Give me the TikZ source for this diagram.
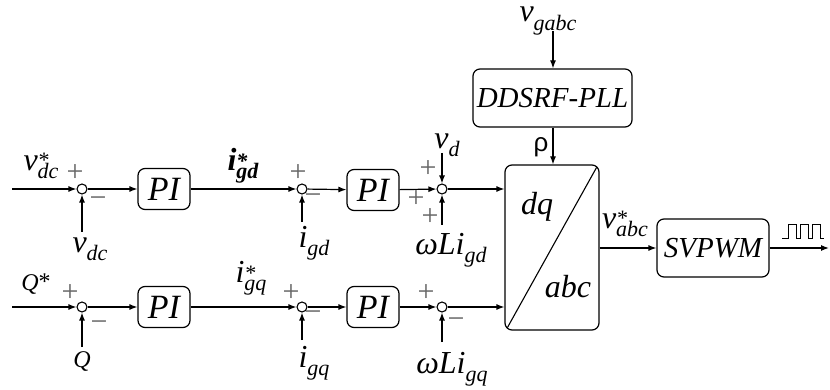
\documentclass[tikz,border=0pt]{standalone}
\usepackage{fontspec}
\setmainfont{Liberation Serif}[ItalicFont={* Italic},BoldFont={* Bold},BoldItalicFont={* Bold Italic}]
\newfontfamily\sansgr{Liberation Sans}
\usetikzlibrary{arrows.meta,calc}
\newcommand{\subf}{\fontsize{22}{22}\selectfont}
\newcommand{\sbs}[3]{#1\rlap{\raisebox{0.15ex}{\subf #3}}\raisebox{-0.55ex}{\subf\itshape #2}}
\begin{document}
\begin{tikzpicture}[x=1pt,y=-1pt,
  line width=1.2pt,
  arr/.style={-{Latex[length=8pt,width=6pt]}},
  sumc/.style={circle,draw,minimum size=10pt,inner sep=0pt,line width=1.1pt},
  blk/.style={draw,rounded corners=7pt,line width=1.2pt,inner sep=0pt,
              font=\fontsize{29}{30}\selectfont\itshape},
  pib/.style={blk,minimum width=52pt,minimum height=41pt,font=\fontsize{34}{34}\selectfont\itshape},
  lbl/.style={inner sep=0pt,font=\fontsize{32}{33}\selectfont\itshape},
  slbl/.style={inner sep=0pt,font=\fontsize{24}{24}\selectfont\itshape},
  sgn/.style={inner sep=0pt,text=black!60,font=\fontsize{30}{30}\selectfont}]
\path[use as bounding box] (0,0) rectangle (830,390);
% top row
\coordinate (in1) at (12,189);
\node[sumc] (s1) at (82,189) {};
\node[pib] (PI1) at (164,189) {PI};
\node[sumc] (s2) at (302,189) {};
\node[pib] (PI2) at (373,190) {PI};
\node[sumc] (s3) at (442,189) {};
% bottom row
\coordinate (in2) at (12,307);
\node[sumc] (s4) at (82,307) {};
\node[pib] (PI3) at (164,307) {PI};
\node[sumc] (s5) at (302,307) {};
\node[pib] (PI4) at (373,307) {PI};
\node[sumc] (s6) at (442,307) {};
% transform block
\node[blk,minimum width=94pt,minimum height=165pt] (T) at (552,247.5) {};
\node[blk,minimum width=159pt,minimum height=58pt] (PLL) at (552.5,98) {DDSRF-PLL};
\node[blk,minimum width=112pt,minimum height=58pt] (SV) at (713,248) {SVPWM};
\coordinate (vg) at (553,31);
\coordinate (out) at (829,248);
% feedback starts
\coordinate (f1) at (82,232);
\coordinate (f2) at (302,222);
\coordinate (f3) at (442,225);
\coordinate (f4) at (82,347);
\coordinate (f5) at (302,340);
\coordinate (f6) at (442,342);
\coordinate (fd) at (442,153);
% connectors
\draw[arr] (in1) -- (s1);
\draw[arr] (s1) -- (PI1);
\draw[arr] (PI1) -- (s2);
\draw[arr] (s2) -- (PI2);
\draw[arr] (PI2) -- (s3);
\draw[arr] (s3) -- (s3 -| T.west);
\draw[arr] (in2) -- (s4);
\draw[arr] (s4) -- (PI3);
\draw[arr] (PI3) -- (s5);
\draw[arr] (s5) -- (PI4);
\draw[arr] (PI4) -- (s6);
\draw[arr] (s6) -- (s6 -| T.west);
\draw[arr] (f1) -- (s1);
\draw[arr] (f2) -- (s2);
\draw[arr] (f3) -- (s3);
\draw[arr] (fd) -- (s3);
\draw[arr] (f4) -- (s4);
\draw[arr] (f5) -- (s5);
\draw[arr] (f6) -- (s6);
\draw[arr] (vg) -- (vg |- PLL.north);
\draw[arr] (PLL.south -| vg) -- (T.north -| vg);
\draw[arr] (T.east |- SV) -- (SV);
\draw[arr] (SV) -- (out);
\draw[line width=1.1pt] ($(T.south west)+(3,-3)$) -- ($(T.north east)+(-3,3)$);
% pulse
\draw[line width=1pt] (782,239) -- (788,239) -- (788,225) -- (796,225) -- (796,239) -- (800,239) -- (800,225) -- (808,225) -- (808,239) -- (812,239) -- (812,225) -- (820,225) -- (820,239) -- (824,239);
% labels
\node[lbl] at (41,166) {\sbs{v}{dc}{*}};
\node[lbl] at (90,249) {\sbs{v}{dc}{}};
\node[slbl] at (36,284) {Q\raisebox{0.1ex}{\upshape *}};
\node[slbl] at (82,361) {Q};
\node[lbl] at (243,166) {\bfseries\sbs{i}{\bfseries gd}{*}};
\node[lbl] at (251,278) {\sbs{i}{gq}{*}};
\node[lbl] at (314,243) {\sbs{i}{gd}{}};
\node[lbl] at (314,363) {\sbs{i}{gq}{}};
\node[lbl] at (451,250) {\sbs{ωLi}{gd}{}};
\node[lbl] at (452,369) {\sbs{ωLi}{gq}{}};
\node[lbl] at (447,145) {\sbs{v}{d}{}};
\node[lbl] at (548,21) {\sbs{v}{gabc}{}};
\node[lbl] at (625,224) {\sbs{v}{abc}{*}};
\node[lbl] at (537,207) {dq};
\node[lbl] at (568,287) {abc};
\node[inner sep=0pt,font=\fontsize{26}{26}\selectfont\sansgr] at (541,147) {ρ};
% signs
\node[sgn] at (75,173) {+};
\node[sgn] at (98,202) {−};
\node[sgn] at (70,293) {+};
\node[sgn] at (99,326) {−};
\node[sgn] at (298,173) {+};
\node[sgn] at (313,199) {−};
\node[sgn] at (291,293) {+};
\node[sgn] at (313,316) {−};
\node[sgn] at (428,169) {+};
\node[sgn] at (416,199) {+};
\node[sgn] at (430,217) {+};
\node[sgn] at (426,293) {+};
\node[sgn] at (456,323) {−};
\end{tikzpicture}
\end{document}
